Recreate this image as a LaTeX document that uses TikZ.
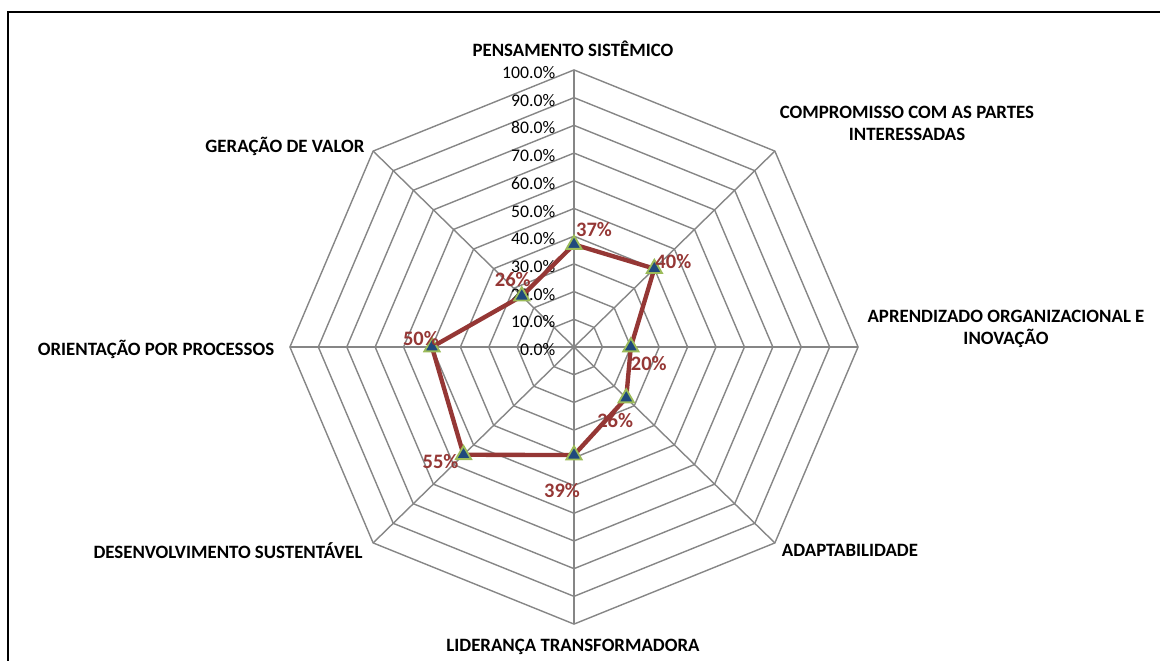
\documentclass[tikz,border=0pt]{standalone}
\usepackage{fontspec}
\setmainfont{Carlito}
\usetikzlibrary{positioning,shapes.geometric}

\definecolor{grade}{HTML}{868686}
\definecolor{serie}{HTML}{953735}
\definecolor{marcaborda}{HTML}{9BBB59}
\definecolor{marcafundo}{HTML}{1F497D}

\tikzset{
  grade/.style={draw=grade, line width=1pt},
  eixo/.style={font=\fontsize{13.4}{16}\selectfont\bfseries, align=center, anchor=base, inner sep=0pt},
  escala/.style={font=\fontsize{12.6}{15}\selectfont, anchor=base east, inner sep=0pt},
  linha/.style={draw=serie, line width=3.1pt, line join=round},
  marca/.style={regular polygon, regular polygon sides=3, fill=marcafundo,
    draw=marcaborda, line width=1.3pt, inner sep=0pt, minimum size=0.44cm},
  rotulo/.style={text=serie, font=\fontsize{14.6}{17}\selectfont\bfseries, inner sep=0pt},
  desloca/.style 2 args={xshift=#1*0.025cm, yshift=-#2*0.025cm}
}

\begin{document}
\begin{tikzpicture}[x=0.025cm, y=-0.025cm]
\useasboundingbox (0,0) rectangle (1160,660);
\draw[line width=1.5pt] (8,12) rectangle (1180,680);

\begin{scope}[shift={(574,347)}, x=7.1cm, y=-6.925cm]
  \coordinate (c) at (0,0);
  \foreach \k in {0,...,7}
    \coordinate (v\k) at ({sin(45*\k)},{-cos(45*\k)});
  % aneis
  \foreach \r in {1,...,10}
    \draw[grade] (0,{-\r/10}) \foreach \k in {1,...,7} { -- ({\r/10*sin(45*\k)},{-\r/10*cos(45*\k)}) } -- cycle;
  % eixos
  \foreach \k in {0,...,7}
    \draw[grade] (c) -- (v\k);
  % escala
  \foreach \r/\t in {0/0.0,1/10.0,2/20.0,3/30.0,4/40.0,5/50.0,6/60.0,7/70.0,8/80.0,9/90.0,10/100.0}
    \node[escala] (t\r) at (-0.065,{-\r/10+0.031}) {\t\%};

  % serie
  \foreach \v [count=\k from 0] in {37,40,20,26,39,55,50,26}
    \coordinate (p\k) at ({\v/100*sin(45*\k)},{-\v/100*cos(45*\k)});
  \draw[linha] (p0) -- (p1) -- (p2) -- (p3) -- (p4) -- (p5) -- (p6) -- (p7) -- cycle;
  \foreach \k in {0,...,7}
    \node[marca] (m\k) at (p\k) {};

  \node[rotulo, desloca={20}{-15}] (r0) at (p0) {37\%};
  \node[rotulo, desloca={19}{-7}]  (r1) at (p1) {40\%};
  \node[rotulo, desloca={18}{16}]  (r2) at (p2) {20\%};
  \node[rotulo, desloca={-11}{23}] (r3) at (p3) {26\%};
  \node[rotulo, desloca={-12}{35}] (r4) at (p4) {39\%};
  \node[rotulo, desloca={-23}{7}]  (r5) at (p5) {55\%};
  \node[rotulo, desloca={-11}{-8}] (r6) at (p6) {50\%};
  \node[rotulo, desloca={-9}{-17}] (r7) at (p7) {26\%};
\end{scope}

\node[eixo] (a0) at (573,56)    {PENSAMENTO SISTÊMICO};
\node[eixo] (a1) at (907,140.5) {COMPROMISSO COM AS PARTES\\INTERESSADAS};
\node[eixo] (a2) at (1006,344.5) {APRENDIZADO ORGANIZACIONAL E\\INOVAÇÃO};
\node[eixo] (a3) at (850,556)   {ADAPTABILIDADE};
\node[eixo] (a4) at (573,651)   {LIDERANÇA TRANSFORMADORA};
\node[eixo] (a5) at (228,558)   {DESENVOLVIMENTO SUSTENTÁVEL};
\node[eixo] (a6) at (156,355)   {ORIENTAÇÃO POR PROCESSOS};
\node[eixo] (a7) at (285,152)   {GERAÇÃO DE VALOR};
\end{tikzpicture}
\end{document}
